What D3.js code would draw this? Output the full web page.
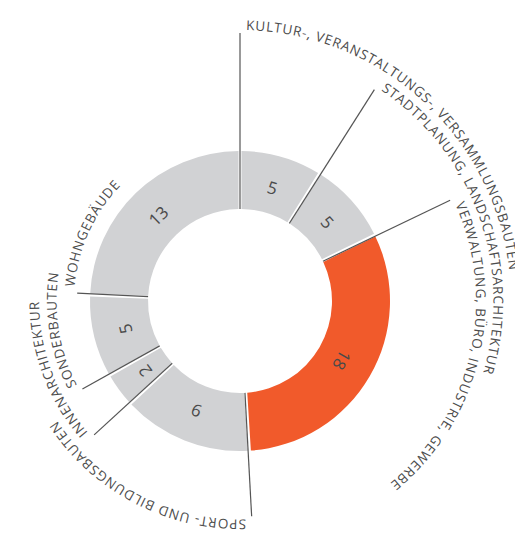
<!DOCTYPE html>
<html>
<head>
<meta charset="utf-8">
<script src="https://cdn.jsdelivr.net/npm/d3@7"></script>
<style>
  body { margin: 0; background: #fff; }
  svg { display: block; }
</style>
</head>
<body>
<div id="chart"></div>
<script>
// categories, clockwise from the top
const categories = [
  "KULTUR-, VERANSTALTUNGS-, VERSAMMLUNGSBAUTEN",
  "STADTPLANUNG, LANDSCHAFTSARCHITEKTUR",
  "VERWALTUNG, BÜRO, INDUSTRIE, GEWERBE",
  "SPORT- UND BILDUNGSBAUTEN",
  "INNENARCHITEKTUR",
  "SONDERBAUTEN",
  "WOHNGEBÄUDE"
];
// numbers printed in the ring
const counts = [5, 5, 18, 9, 2, 5, 13];
// share of the ring each slice takes
const arcShares = [5, 5, 18, 8, 2, 5, 14];
const highlighted = [false, false, true, false, false, false, false];

const width = 515, height = 535;
const cx = 240, cy = 301;
const innerR = 92, outerR = 150;

const svg = d3.select("#chart")
  .append("svg")
  .attr("width", width)
  .attr("height", height);

const g = svg.append("g")
  .attr("transform", `translate(${cx}, ${cy})`);

const data = categories.map((c, i) => ({ name: c, count: counts[i], share: arcShares[i], hi: highlighted[i] }));

const pie = d3.pie()
  .value(d => d.share)
  .sort(null)
  .padAngle(0.017);

const arcs = pie(data);

const arc = d3.arc()
  .innerRadius(innerR)
  .outerRadius(outerR);

// ring slices
g.selectAll("path.slice")
  .data(arcs)
  .enter()
  .append("path")
  .attr("class", "slice")
  .attr("d", arc)
  .attr("fill", d => d.data.hi ? "#f15a2b" : "#d1d2d4");

// numbers, turned with the slice
const midR = 118;
g.selectAll("text.count")
  .data(arcs)
  .enter()
  .append("text")
  .attr("class", "count")
  .attr("transform", d => {
    const a = (d.startAngle + d.endAngle) / 2;
    const x = midR * Math.sin(a), y = -midR * Math.cos(a);
    return `translate(${x}, ${y}) rotate(${a * 180 / Math.PI})`;
  })
  .attr("text-anchor", "middle")
  .attr("dominant-baseline", "central")
  .style("font-family", "'Open Sans', sans-serif")
  .style("font-size", "17px")
  .style("fill", "#4a4a4a")
  .text(d => d.data.count);

// leader lines get shorter going round
const lineR = i => 268 - 17.5 * i;

// segment start angle (pie pads both sides, so take the middle of the gap)
const startA = d => d.index === 0 ? 0 : arcs[d.index - 1].endAngle + 0.0085;

g.selectAll("line.leader")
  .data(arcs)
  .enter()
  .append("line")
  .attr("class", "leader")
  .attr("x1", d => innerR * Math.sin(startA(d)))
  .attr("y1", d => -innerR * Math.cos(startA(d)))
  .attr("x2", d => lineR(d.index) * Math.sin(startA(d)))
  .attr("y2", d => -lineR(d.index) * Math.cos(startA(d)))
  .attr("stroke", "#555")
  .attr("stroke-width", 1.2);

// circular paths for the outer labels
const defs = svg.append("defs");
arcs.forEach(d => {
  const r = lineR(d.index) + 3;
  const a0 = startA(d) - Math.PI / 2;
  const p = d3.path();
  p.moveTo(r * Math.cos(a0), r * Math.sin(a0));
  p.arc(0, 0, r, a0, a0 + Math.PI * 1.6, false);
  defs.append("path")
    .attr("id", "lbl" + d.index)
    .attr("d", p.toString());
});

g.selectAll("text.name")
  .data(arcs)
  .enter()
  .append("text")
  .attr("class", "name")
  .style("font-family", "'Open Sans', sans-serif")
  .style("font-size", "13.5px")
  .style("letter-spacing", "0.85px")
  .style("fill", "#4d4d4d")
  .append("textPath")
  .attr("href", d => "#lbl" + d.index)
  .attr("startOffset", 6)
  .text(d => d.data.name);
</script>
</body>
</html>
